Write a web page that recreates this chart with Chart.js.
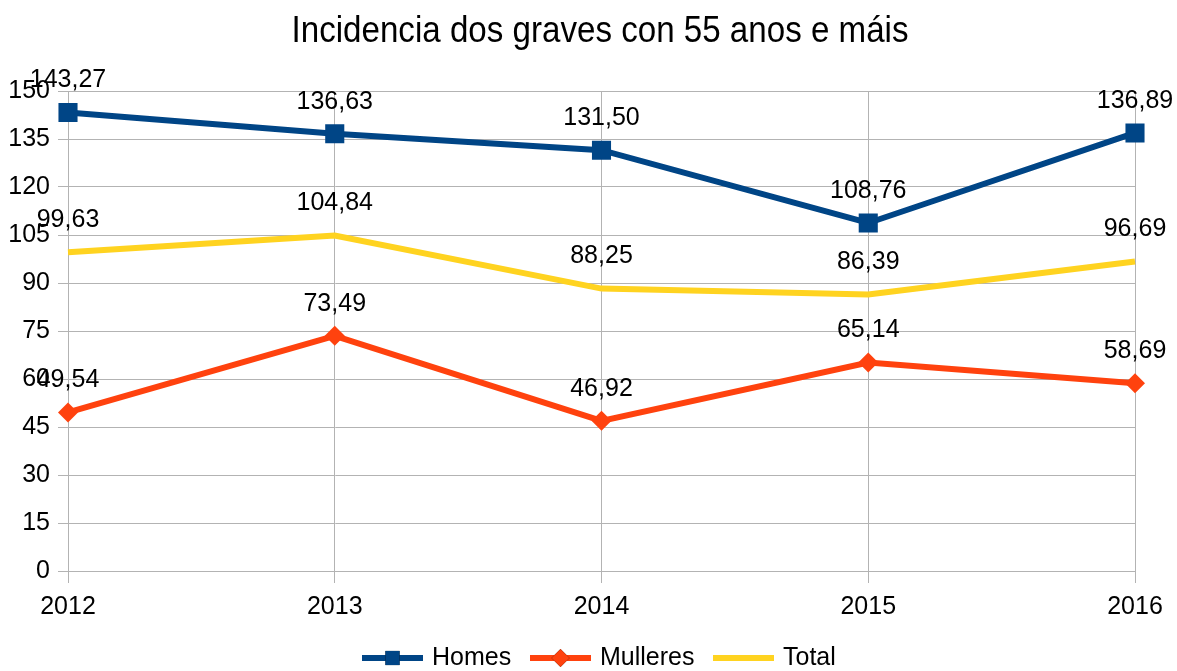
<!DOCTYPE html>
<html><head><meta charset="utf-8">
<script src="https://cdn.jsdelivr.net/npm/chart.js@4/dist/chart.umd.min.js"></script>
<style>html,body{margin:0;padding:0;background:#fff}#wrap{width:1177px;height:671px;position:relative}</style>
</head><body><div id="wrap"><canvas id="c" width="1177" height="671"></canvas></div>
<script>
const categories = ["2012", "2013", "2014", "2015", "2016"];
const homes = [143.27, 136.63, 131.50, 108.76, 136.89];
const mulleres = [49.54, 73.49, 46.92, 65.14, 58.69];
const total = [99.63, 104.84, 88.25, 86.39, 96.69];
const seriesNames = ["Homes", "Mulleres", "Total"];
const titleText = "Incidencia dos graves con 55 anos e máis";
const yTicks = [0, 15, 30, 45, 60, 75, 90, 105, 120, 135, 150];

const FONT = "'Liberation Sans', Arial, sans-serif";
const C_H = "#004586", C_M = "#ff420e", C_T = "#ffd320";

const fmt = v => v.toFixed(2).replace('.', ',');

const labelsPlugin = {
  id: 'labelsPlugin',
  afterDatasetsDraw(chart) {
    const ctx = chart.ctx;
    ctx.save();
    ctx.font = "25px " + FONT;
    ctx.fillStyle = "#000";
    ctx.textAlign = "center";
    ctx.textBaseline = "middle";
    chart.data.datasets.forEach((ds, i) => {
      const meta = chart.getDatasetMeta(i);
      meta.data.forEach((pt, j) => {
        ctx.fillText(fmt(ds.data[j]), pt.x, pt.y - 32);
      });
    });
    ctx.restore();
  }
};

const titleLegendPlugin = {
  id: 'titleLegend',
  afterDraw(chart) {
    const ctx = chart.ctx;
    ctx.save();
    ctx.fillStyle = "#000";
    ctx.font = "36px " + FONT;
    ctx.textAlign = "center";
    ctx.textBaseline = "alphabetic";
    const w = ctx.measureText(titleText).width;
    const sx = 617 / w;
    ctx.translate(600, 42);
    ctx.scale(sx, 1);
    ctx.fillText(titleText, 0, 0);
    ctx.restore();
    ctx.save();
    // legend
    const items = [
      {name: seriesNames[0], color: C_H, style: 'rect', r: 10, x: 362},
      {name: seriesNames[1], color: C_M, style: 'rectRot', r: 9, x: 530},
      {name: seriesNames[2], color: C_T, style: null, r: 0, x: 713}
    ];
    const y = 658;
    ctx.font = "25px " + FONT;
    ctx.textAlign = "left";
    ctx.textBaseline = "middle";
    items.forEach(it => {
      ctx.strokeStyle = it.color;
      ctx.lineWidth = 6;
      ctx.beginPath();
      ctx.moveTo(it.x, y);
      ctx.lineTo(it.x + 61, y);
      ctx.stroke();
      if (it.style) {
        Chart.helpers.drawPoint(ctx, {pointStyle: it.style, radius: it.r, borderWidth: 0}, it.x + 30.5, y);
        ctx.fillStyle = it.color;
        ctx.fill();
      }
      ctx.fillStyle = "#000";
      ctx.fillText(it.name, it.x + 70, y);
    });
    ctx.restore();
  }
};

new Chart(document.getElementById('c'), {
  type: 'line',
  data: {
    labels: categories,
    datasets: [
      {label: seriesNames[0], data: homes, borderColor: C_H, backgroundColor: C_H, borderWidth: 6,
       pointStyle: 'rect', pointRadius: 13.5, pointBorderWidth: 0, tension: 0, order: 0},
      {label: seriesNames[1], data: mulleres, borderColor: C_M, backgroundColor: C_M, borderWidth: 6,
       pointStyle: 'rectRot', pointRadius: 10, pointBorderWidth: 0, tension: 0, order: 1},
      {label: seriesNames[2], data: total, borderColor: C_T, backgroundColor: C_T, borderWidth: 6,
       pointRadius: 0, tension: 0, order: 2}
    ]
  },
  options: {
    responsive: false,
    animation: false,
    layout: {padding: {top: 91, right: 42, bottom: 45, left: 0}},
    plugins: {legend: {display: false}, title: {display: false}, tooltip: {enabled: false}},
    scales: {
      x: {
        offset: false,
        grid: {color: "#b3b3b3", lineWidth: 1, tickLength: 12, drawTicks: true},
        border: {color: "#b3b3b3"},
        ticks: {color: "#000", font: {family: FONT, size: 25}, padding: 9, maxRotation: 0},
        afterFit(s) { s.height = 55; }
      },
      y: {
        min: 0, max: 150,
        afterBuildTicks(s) { s.ticks = yTicks.map(v => ({value: v})); },
        grid: {color: "#b3b3b3", lineWidth: 1, tickLength: 10},
        border: {color: "#b3b3b3"},
        ticks: {color: "#000", font: {family: FONT, size: 25}, padding: 8},
        afterFit(s) { s.width = 68; }
      }
    }
  },
  plugins: [labelsPlugin, titleLegendPlugin]
});
</script></body></html>
